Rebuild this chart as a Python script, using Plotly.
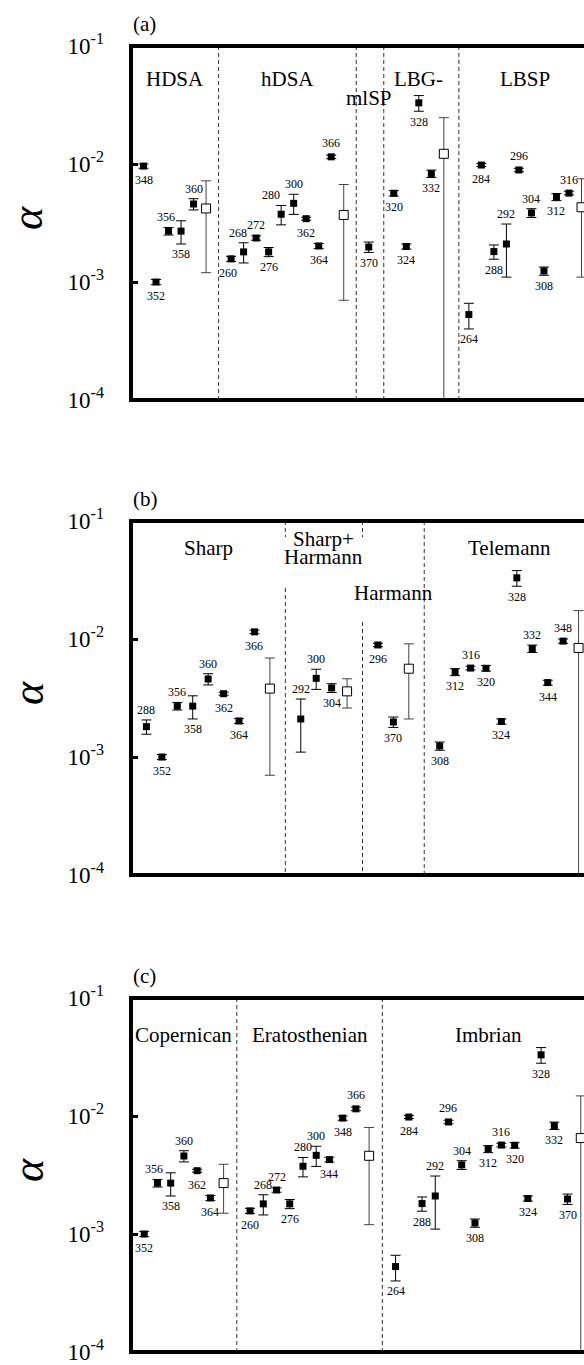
import math
import plotly.graph_objects as go

# ---- crater alpha estimates and 1-sigma uncertainties ----
crater_id = [260, 264, 268, 272, 276, 280, 284, 288, 292, 296, 300, 304, 308,
             312, 316, 320, 324, 328, 332, 344, 348, 352, 356, 358, 360, 362,
             364, 366, 370]
crater_alpha = [0.00157, 0.00053, 0.00180, 0.00236, 0.00180, 0.00375, 0.00980,
                0.00181, 0.00210, 0.00890, 0.00464, 0.00385, 0.00124, 0.00525,
                0.00567, 0.00565, 0.00200, 0.03300, 0.00828, 0.00427, 0.00960,
                0.00100, 0.00270, 0.00270, 0.00458, 0.00344, 0.00202, 0.01150,
                0.00198]
crater_err = [0.00008, 0.00013, 0.00035, 0.00010, 0.00016, 0.00070, 0.00030,
              0.00025, 0.00100, 0.00030, 0.00090, 0.00033, 0.00010, 0.00036,
              0.00020, 0.00030, 0.00010, 0.00500, 0.00060, 0.00020, 0.00040,
              0.00005, 0.00020, 0.00060, 0.00050, 0.00010, 0.00010, 0.00040,
              0.00020]

# ---- panel (a): morphological classes ----
a_groups = ["HDSA", "hDSA", "mlSP", "LBG-", "LBSP"]
a_members = [[348, 352, 356, 358, 360],
             [260, 268, 272, 276, 280, 300, 362, 364, 366],
             [370],
             [320, 324, 328, 332],
             [264, 284, 288, 292, 296, 304, 308, 312, 316]]
a_mean = [0.0042, 0.0037, None, 0.0122, 0.0043]
a_mean_err = [0.0030, 0.0030, None, 0.0125, 0.0032]

# ---- panel (b): mapping sources ----
b_groups = ["Sharp", "Sharp+Harmann", "Harmann", "Telemann"]
b_members = [[288, 352, 356, 358, 360, 362, 364, 366],
             [292, 300, 304],
             [296, 370],
             [308, 312, 316, 320, 324, 328, 332, 344, 348]]
b_mean = [0.0038, 0.0036, 0.0056, 0.0084]
b_mean_err = [0.0031, 0.0010, 0.0035, 0.0090]

# ---- panel (c): geologic periods ----
c_groups = ["Copernican", "Eratosthenian", "Imbrian"]
c_members = [[352, 356, 358, 360, 362, 364],
             [260, 268, 272, 276, 280, 300, 344, 348, 366],
             [264, 284, 288, 292, 296, 304, 308, 312, 316, 320, 324, 328, 332, 370]]
c_mean = [0.0027, 0.0046, 0.0065]
c_mean_err = [0.0012, 0.0034, 0.0083]

y_tick_vals = [1e-4, 1e-3, 1e-2, 1e-1]
y_tick_text = ["10<sup>-4</sup>", "10<sup>-3</sup>", "10<sup>-2</sup>", "10<sup>-1</sup>"]

# ---- layout / style settings ----
FONT = "Liberation Serif, Times New Roman, serif"
W, H = 584, 1365
ML = 131
PLOT_W = W - ML
FULL_SPAN = 463          # pixel length of the whole slot range of a panel
PANEL_H = 354
PX_DEC = PANEL_H / 3.0

panels = [
    dict(tag="(a)", top=46, groups=a_groups, members=a_members, mean=a_mean, mean_err=a_mean_err,
         sides="bbtbt" + "bttbttbbt" + "b" + "bbbb" + "bbbtttbbt",
         xshift={280: -10, 268: -6, 356: -3, 260: -3},
         dividers=[(7, [(0, 354)]), (18, [(0, 354)]), (20.2, [(0, 354)]), (26.2, [(0, 354)])],
         heads=[[("HDSA", 33)], [("hDSA", 33)], [("mlSP", 52)], [("LBG-", 33)], [("LBSP", 33)]]),
    dict(tag="(b)", top=521, groups=b_groups, members=b_members, mean=b_mean, mean_err=b_mean_err,
         sides="tbtbtbbb" + "ttb" + "bb" + "bbtbbbtbt",
         xshift={},
         dividers=[(10, [(0, 16), (67, 354)]), (15, [(0, 16), (101, 354)]), (19, [(0, 354)])],
         heads=[[("Sharp", 27)], [("Sharp+", 17.5), ("Harmann", 35.5)], [("Harmann", 72)], [("Telemann", 27)]]),
    dict(tag="(c)", top=998, groups=c_groups, members=c_members, mean=c_mean, mean_err=c_mean_err,
         sides="btbtbb" + "bttbttbbt" + "bbbtttbbtbbbbb",
         xshift={356: -3},
         dividers=[(8, [(0, 354)]), (19, [(0, 354)])],
         heads=[[("Copernican", 37)], [("Eratosthenian", 37)], [("Imbrian", 37)]]),
]

lookup = {cid: (v, e) for cid, v, e in zip(crater_id, crater_alpha, crater_err)}

fig = go.Figure()
annotations = []
shapes = []
layout_axes = {}


def px_to_paper_y(py):
    return 1 - py / H


def px_to_paper_x(px):
    return (px - ML) / PLOT_W


for i, p in enumerate(panels):
    k = i + 1
    xa = "x" if k == 1 else f"x{k}"
    ya = "y" if k == 1 else f"y{k}"
    xkey = "xaxis" if k == 1 else f"xaxis{k}"
    ykey = "yaxis" if k == 1 else f"yaxis{k}"

    # place members, then the group mean, then leave one slot for the divider
    slot = 1
    xs, ys, es, ids = [], [], [], []
    mx, my, me = [], [], []
    centers = []
    for mem, m, m_err in zip(p["members"], p["mean"], p["mean_err"]):
        start = slot
        for cid in mem:
            v, e = lookup[cid]
            xs.append(slot); ys.append(v); es.append(e); ids.append(cid)
            slot += 1
        if m is not None:
            mx.append(slot); my.append(m); me.append(m_err)
            slot += 1
        centers.append((start + slot - 1) / 2.0)
        slot += 1
    n_slots = slot - 1
    step = FULL_SPAN / n_slots
    x_max = PLOT_W / step

    top = p["top"]
    y_dom = [px_to_paper_y(top + PANEL_H), px_to_paper_y(top)]

    layout_axes[xkey] = dict(domain=[0, 1], range=[0, x_max], anchor=ya,
                             showgrid=False, zeroline=False, showticklabels=False,
                             ticks="", showline=False, fixedrange=True)
    layout_axes[ykey] = dict(domain=y_dom, type="log", range=[-4, -1], anchor=xa,
                             showgrid=False, zeroline=False, showline=False,
                             tickvals=y_tick_vals, ticktext=y_tick_text,
                             ticks="inside", ticklen=7, tickwidth=3, tickcolor="black",
                             ticklabelstandoff=26, ticklabeloverflow="allow",
                             tickfont=dict(family=FONT, size=23, color="black"),
                             automargin=False, fixedrange=True)

    # group means: open squares
    fig.add_trace(go.Scatter(
        x=mx, y=my, xaxis=xa, yaxis=ya, mode="markers",
        marker=dict(symbol="square", size=9, color="white",
                    line=dict(color="black", width=1)),
        error_y=dict(type="data", array=me, symmetric=True, color="#444444",
                     thickness=1, width=5),
        showlegend=False, hoverinfo="skip"))

    # individual craters: filled squares
    fig.add_trace(go.Scatter(
        x=xs, y=ys, xaxis=xa, yaxis=ya, mode="markers",
        marker=dict(symbol="square", size=7, color="black"),
        error_y=dict(type="data", array=es, symmetric=True, color="black",
                     thickness=1, width=5),
        showlegend=False, hoverinfo="skip"))

    # crater number labels above or below each error bar
    for x, v, e, cid, side in zip(xs, ys, es, ids, p["sides"]):
        if side == "t":
            ext = (math.log10(v + e) - math.log10(v)) * PX_DEC
            shift, anchor = max(ext, 3.5) + 1, "bottom"
        else:
            ext = (math.log10(v) - math.log10(v - e)) * PX_DEC
            shift, anchor = -(max(ext, 3.5) + 1.5), "top"
        annotations.append(dict(
            x=x, y=math.log10(v), xref=xa, yref=ya, text=str(cid),
            showarrow=False, yanchor=anchor, xanchor="center",
            yshift=shift, xshift=p["xshift"].get(cid, 0),
            font=dict(family=FONT, size=12, color="black")))

    # group headings
    for c, rows in zip(centers, p["heads"]):
        for text, dy in rows:
            annotations.append(dict(
                x=c, y=1 - dy / PANEL_H, xref=xa, yref=f"{ya} domain", text=text,
                showarrow=False, xanchor="center", yanchor="middle",
                font=dict(family=FONT, size=21, color="black")))

    # dashed dividers between groups
    for xd, segs in p["dividers"]:
        for s0, s1 in segs:
            shapes.append(dict(type="line", xref=xa, yref=f"{ya} domain",
                               x0=xd, x1=xd, y0=1 - s0 / PANEL_H, y1=1 - s1 / PANEL_H,
                               line=dict(color="#333333", width=1, dash="4px,3px")))

    # frame: left, top and bottom edges
    frame = dict(color="black", width=4)
    d = 2.0 / PLOT_W
    shapes.append(dict(type="line", xref=f"{xa} domain", yref=f"{ya} domain",
                       x0=0, x1=0, y0=0, y1=1, line=frame))
    shapes.append(dict(type="line", xref=f"{xa} domain", yref=f"{ya} domain",
                       x0=-d, x1=1.05, y0=1, y1=1, line=frame))
    shapes.append(dict(type="line", xref=f"{xa} domain", yref=f"{ya} domain",
                       x0=-d, x1=1.05, y0=0, y1=0, line=frame))

    # y-axis symbol
    annotations.append(dict(
        x=px_to_paper_x(28), y=px_to_paper_y(top + PANEL_H / 2 - 5),
        xref="paper", yref="paper", text="<i>α</i>", textangle=-90,
        showarrow=False, xanchor="center", yanchor="middle",
        font=dict(family=FONT, size=44, color="black")))

    # panel tag
    annotations.append(dict(
        x=px_to_paper_x(131), y=px_to_paper_y(top - 22),
        xref="paper", yref="paper", text=p["tag"],
        showarrow=False, xanchor="left", yanchor="middle",
        font=dict(family=FONT, size=21, color="black")))

fig.update_layout(
    width=W, height=H,
    margin=dict(l=ML, r=0, t=0, b=0, autoexpand=False),
    paper_bgcolor="white", plot_bgcolor="white",
    font=dict(family=FONT, color="black"),
    annotations=annotations, shapes=shapes,
    showlegend=False,
    **layout_axes)

fig.write_html("out.html", config={"displayModeBar": False})
